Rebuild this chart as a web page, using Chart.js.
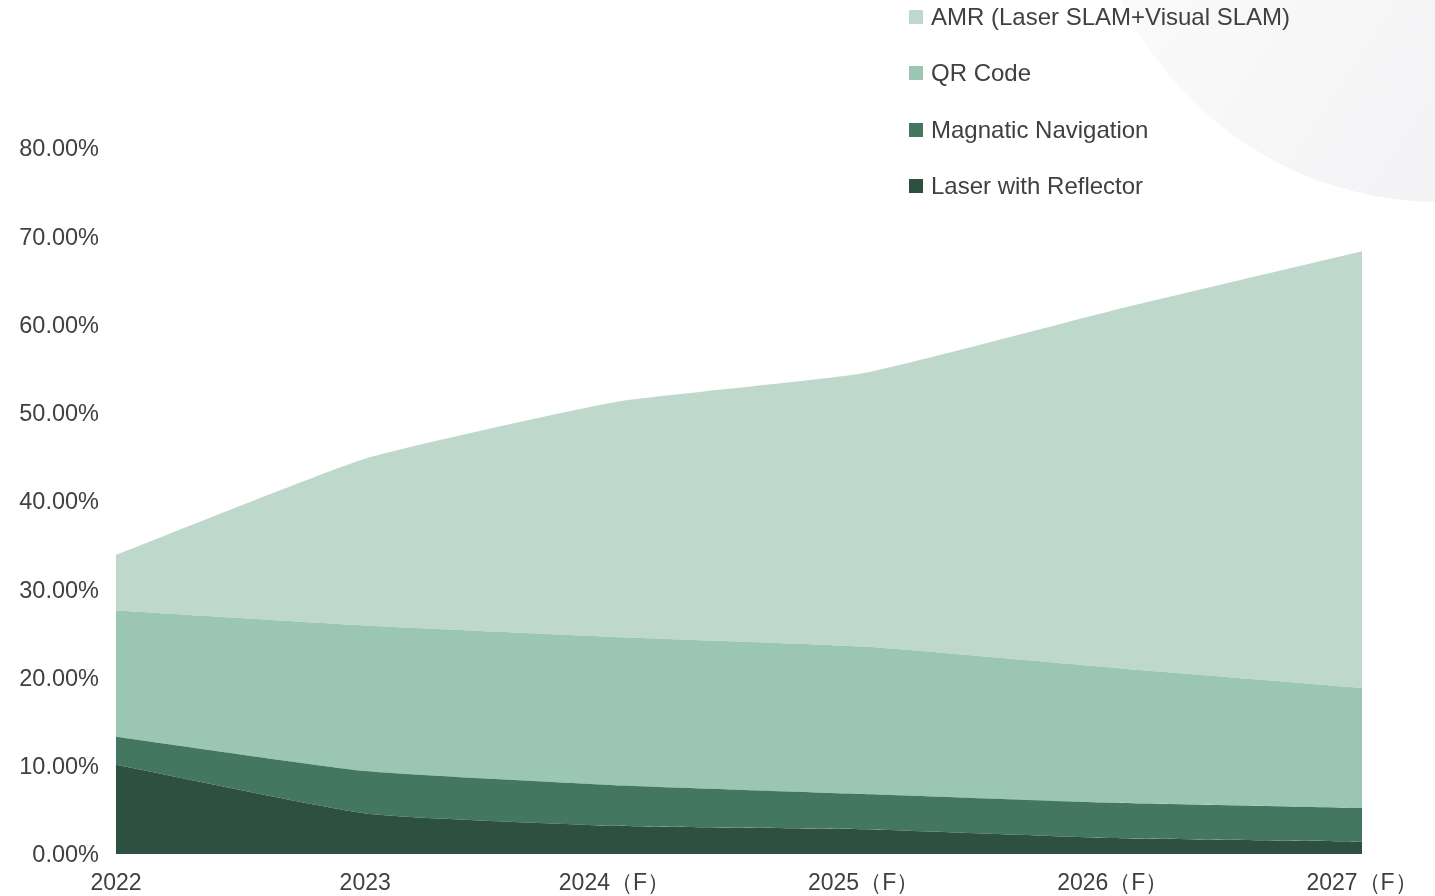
<!DOCTYPE html>
<html>
<head>
<meta charset="utf-8">
<script src="https://cdn.jsdelivr.net/npm/chart.js@4.4.1/dist/chart.umd.min.js"></script>
<style>
  html, body { margin: 0; padding: 0; background: #ffffff; }
  #wrap { position: relative; width: 1435px; height: 896px; }
</style>
</head>
<body>
<div id="wrap"><canvas id="c" width="1435" height="896"></canvas></div>
<script>
const categories = ['2022', '2023', '2024（F）', '2025（F）', '2026（F）', '2027（F）'];
const laserReflector = [10.1, 4.6, 3.2, 2.8, 1.8, 1.4];
const magneticNav    = [3.2, 4.8, 4.6, 4.0, 4.0, 3.8];
const qrCode         = [14.3, 16.5, 16.8, 16.7, 15.3, 13.6];
const amrSlam        = [6.3, 18.9, 26.6, 31.0, 40.5, 49.5];
const seriesNames = ['Laser with Reflector', 'Magnatic Navigation', 'QR Code', 'AMR (Laser SLAM+Visual SLAM)'];
const seriesColors = ['#2e5041', '#437760', '#9cc6b4', '#bed9cc'];
const yTicks = [0, 10, 20, 30, 40, 50, 60, 70, 80];

const FONT = "'Liberation Sans', Arial, sans-serif";
const TEXT = '#404040';

const bgCircle = {
  id: 'bgCircle',
  beforeDraw(chart) {
    const ctx = chart.ctx;
    ctx.save();
    const g = ctx.createLinearGradient(1140, 0, 1435, 200);
    g.addColorStop(0, '#fafafb');
    g.addColorStop(1, '#f3f3f5');
    ctx.fillStyle = g;
    ctx.beginPath();
    ctx.arc(1440, -151, 353, 0, Math.PI * 2);
    ctx.fill();
    ctx.restore();
  }
};

const customLegend = {
  id: 'customLegend',
  afterDraw(chart) {
    const ctx = chart.ctx;
    ctx.save();
    ctx.font = '24px ' + FONT;
    ctx.textBaseline = 'middle';
    ctx.textAlign = 'left';
    const ds = chart.data.datasets;
    const ys = [17, 73, 130, 186];
    for (let i = 0; i < ds.length; i++) {
      const d = ds[ds.length - 1 - i];
      const y = ys[i];
      ctx.fillStyle = d.backgroundColor;
      ctx.fillRect(909, y - 7, 14, 14);
      ctx.fillStyle = TEXT;
      ctx.fillText(d.label, 931, y + 1);
    }
    ctx.restore();
  }
};

const dataArrays = [laserReflector, magneticNav, qrCode, amrSlam];
const datasets = dataArrays.map((arr, i) => ({
  label: seriesNames[i],
  data: arr,
  backgroundColor: seriesColors[i],
  borderColor: seriesColors[i],
  borderWidth: 0,
  pointRadius: 0,
  pointHoverRadius: 0,
  tension: 0.15,
  fill: i === 0 ? 'origin' : '-1'
}));

new Chart(document.getElementById('c'), {
  type: 'line',
  data: { labels: categories, datasets },
  plugins: [bgCircle, customLegend],
  options: {
    responsive: false,
    animation: false,
    layout: { padding: { top: 148, right: 73, left: 0, bottom: 0 } },
    plugins: {
      legend: { display: false },
      tooltip: { enabled: false },
      filler: { propagate: false }
    },
    scales: {
      x: {
        offset: false,
        grid: { display: false, drawTicks: false },
        border: { display: false },
        ticks: {
          color: TEXT,
          font: { family: FONT, size: 23 },
          padding: 16,
          maxRotation: 0,
          autoSkip: false
        },
        afterFit(scale) { scale.height = 42; }
      },
      y: {
        stacked: true,
        min: 0,
        max: 80,
        grid: { display: false, drawTicks: false },
        border: { display: false },
        afterBuildTicks(scale) { scale.ticks = yTicks.map(v => ({ value: v })); },
        ticks: {
          color: TEXT,
          font: { family: FONT, size: 23.5 },
          padding: 17,
          labelOffset: 2,
          callback: (v) => Number(v).toFixed(2) + '%'
        },
        afterFit(scale) { scale.width = 116; }
      }
    }
  }
});
</script>
</body>
</html>
